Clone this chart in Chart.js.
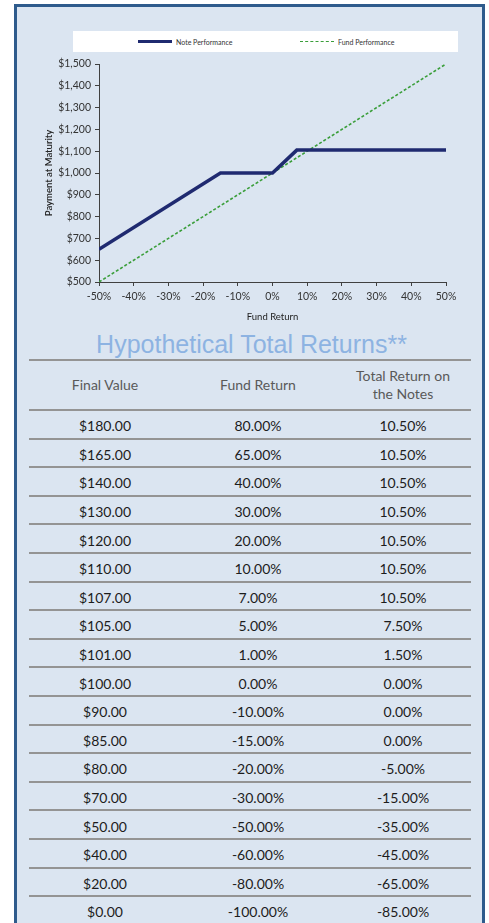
<!DOCTYPE html>
<html>
<head>
<meta charset="utf-8">
<script src="https://cdn.jsdelivr.net/npm/chart.js@4.4.0/dist/chart.umd.min.js"></script>
<style>
  html, body { margin: 0; padding: 0; background: #ffffff; }
  body { width: 489px; height: 923px; overflow: hidden; position: relative; }
  #frame { position: absolute; left: 14px; top: 4px; width: 465px; height: 1000px;
           border: 3px solid #2e5b8c; background: #dbe5f1; }
  #chartBox { position: absolute; left: 0; top: 0; width: 465px; height: 323px; }
  #c { display: block; width: 465px; height: 323px; }
  #legend { position: absolute; left: 56px; top: 24px; width: 385px; height: 21px; background: #ffffff;
            font-family: Lato, "Open Sans", sans-serif; font-size: 7px; color: #333; }
  .lg { position: absolute; top: 0; height: 21px; display: flex; align-items: center; }
  .sw { display: inline-block; width: 34px; height: 0; margin-right: 4px; }
  #title { position: absolute; left: 0; top: 325px; width: 469px; text-align: center;
           font-family: "Liberation Sans", Arial, sans-serif; font-size: 25px; line-height: 25px; color: #8db3e2; }
  #table { position: absolute; left: 12px; top: 352px; width: 442px;
           font-family: Lato, "Open Sans", sans-serif; font-size: 14px; }
  .row { display: flex; box-sizing: border-box; border-bottom: 2px solid #949494; }
  .hdr { height: 52px; border-top: 2px solid #949494; color: #595959; line-height: 18px; }
  .body { height: 28.6px; color: #1c1c1c; padding-top: 3px; }
  .c { display: flex; align-items: center; justify-content: center; text-align: center; }
  .c1 { width: 152px; } .c2 { width: 154px; } .c3 { width: 136px; }
</style>
</head>
<body>
<div id="frame">
  <div id="chartBox"><canvas id="c" width="465" height="323"></canvas></div>
  <div id="legend"></div>
  <div id="title">Hypothetical Total Returns**</div>
  <div id="table"></div>
</div>
<script>
// ---- chart data ----
const noteFundReturns = [-50, -15, 0, 7, 50];
const notePayments    = [650, 1000, 1000, 1105, 1105];
const fundFundReturns = [-50, 50];
const fundPayments    = [500, 1500];
const seriesNames = ["Note Performance", "Fund Performance"];

// ---- table data ----
const tableHeaders = ["Final Value", "Fund Return", "Total Return on<br>the Notes"];
const finalValues = ["$180.00","$165.00","$140.00","$130.00","$120.00","$110.00","$107.00","$105.00","$101.00","$100.00","$90.00","$85.00","$80.00","$70.00","$50.00","$40.00","$20.00","$0.00"];
const fundReturnsTbl = ["80.00%","65.00%","40.00%","30.00%","20.00%","10.00%","7.00%","5.00%","1.00%","0.00%","-10.00%","-15.00%","-20.00%","-30.00%","-50.00%","-60.00%","-80.00%","-100.00%"];
const noteReturnsTbl = ["10.50%","10.50%","10.50%","10.50%","10.50%","10.50%","10.50%","7.50%","1.50%","0.00%","0.00%","0.00%","-5.00%","-15.00%","-35.00%","-45.00%","-65.00%","-85.00%"];

const NOTE_COLOR = "#1f2a70";
const FUND_COLOR = "#3a9e3a";

// legend
const legend = document.getElementById('legend');
legend.innerHTML =
  '<div class="lg" style="left:65px"><span class="sw" style="border-top:3px solid ' + NOTE_COLOR + '"></span>' + seriesNames[0] + '</div>' +
  '<div class="lg" style="left:227px"><span class="sw" style="border-top:1.5px dashed ' + FUND_COLOR + '"></span>' + seriesNames[1] + '</div>';

// table
let html = '<div class="row hdr">' +
  '<div class="c c1">' + tableHeaders[0] + '</div>' +
  '<div class="c c2">' + tableHeaders[1] + '</div>' +
  '<div class="c c3">' + tableHeaders[2] + '</div></div>';
for (let i = 0; i < finalValues.length; i++) {
  html += '<div class="row body">' +
    '<div class="c c1">' + finalValues[i] + '</div>' +
    '<div class="c c2">' + fundReturnsTbl[i] + '</div>' +
    '<div class="c c3">' + noteReturnsTbl[i] + '</div></div>';
}
document.getElementById('table').innerHTML = html;

const toXY = (xs, ys) => xs.map((x, i) => ({ x: x, y: ys[i] }));
const tickFont = { family: "Lato, 'Open Sans', sans-serif", size: 10.5 };
const axisColor = "#404040";

new Chart(document.getElementById('c'), {
  type: 'line',
  data: {
    datasets: [
      { label: seriesNames[0], data: toXY(noteFundReturns, notePayments),
        borderColor: NOTE_COLOR, borderWidth: 3.5, pointRadius: 0, tension: 0, fill: false },
      { label: seriesNames[1], data: toXY(fundFundReturns, fundPayments),
        borderColor: FUND_COLOR, borderWidth: 1.6, borderDash: [3, 2], pointRadius: 0, tension: 0, fill: false }
    ]
  },
  options: {
    responsive: false,
    maintainAspectRatio: false,
    animation: false,
    devicePixelRatio: 1,
    layout: { padding: { left: 22, right: 36, top: 57, bottom: 3 } },
    plugins: { legend: { display: false }, tooltip: { enabled: false } },
    scales: {
      x: {
        type: 'linear', min: -50, max: 50,
        ticks: { stepSize: 10, autoSkip: false, color: '#333', font: tickFont, padding: 4, maxRotation: 0,
                 callback: v => v + '%' },
        grid: { display: true, drawOnChartArea: false, drawTicks: true, tickLength: 4, color: axisColor },
        border: { display: true, color: axisColor, width: 1 },
        title: { display: true, text: 'Fund Return', color: '#222',
                 font: { family: "Lato, 'Open Sans', sans-serif", size: 9.5 }, padding: { top: 0, bottom: 4 } },
        afterFit: s => { s.height = 45; }
      },
      y: {
        min: 500, max: 1500,
        ticks: { stepSize: 100, autoSkip: false, color: '#333', font: tickFont, padding: 4,
                 callback: v => '$' + v.toLocaleString('en-US') },
        grid: { display: true, drawOnChartArea: false, drawTicks: true, tickLength: 4, color: axisColor },
        border: { display: true, color: axisColor, width: 1 },
        title: { display: true, text: 'Payment at Maturity', color: '#222',
                 font: { family: "Lato, 'Open Sans', sans-serif", size: 9.5, weight: '600' }, padding: { top: 4, bottom: 0 } },
        afterFit: s => { s.width = 60; }
      }
    }
  }
});
</script>
</body>
</html>
